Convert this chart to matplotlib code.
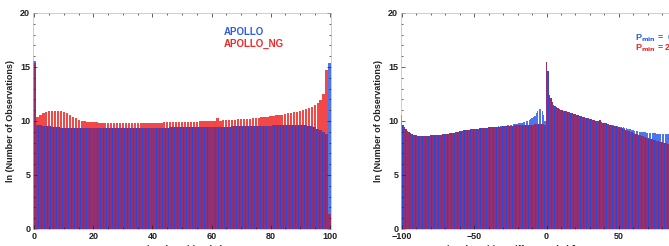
import numpy as np
import matplotlib
matplotlib.use("Agg")
import matplotlib.pyplot as plt
from matplotlib.ticker import MultipleLocator

# left panel: signal position (%) bins 0..100
pos_left = list(range(0, 101))
apollo = [
    15.6, 9.65, 9.62, 9.58, 9.54, 9.5, 9.46, 9.43, 9.4, 9.38,
    9.36, 9.35, 9.34, 9.33, 9.33, 9.32, 9.32, 9.32, 9.32, 9.32,
    9.32, 9.32, 9.32, 9.33, 9.33, 9.33, 9.33, 9.34, 9.34, 9.34,
    9.34, 9.35, 9.35, 9.35, 9.35, 9.36, 9.36, 9.36, 9.37, 9.37,
    9.37, 9.38, 9.38, 9.38, 9.39, 9.39, 9.4, 9.4, 9.4, 9.41,
    9.41, 9.42, 9.42, 9.43, 9.43, 9.44, 9.44, 9.45, 9.45, 9.46,
    9.46, 9.47, 9.47, 9.48, 9.48, 9.49, 9.49, 9.5, 9.5, 9.51,
    9.51, 9.52, 9.52, 9.53, 9.53, 9.54, 9.54, 9.55, 9.56, 9.57,
    9.58, 9.59, 9.6, 9.6, 9.61, 9.61, 9.62, 9.62, 9.63, 9.63,
    9.63, 9.62, 9.6, 9.56, 9.5, 9.42, 9.3, 9.15, 8.95, 8.8,
    15.4,
]
apollo_ng = [
    15.4, 10.4, 10.6, 10.75, 10.85, 10.92, 10.96, 10.97, 10.95, 10.9,
    10.82, 10.7, 10.55, 10.4, 10.25, 10.12, 10.03, 9.97, 9.93, 9.9,
    9.88, 9.87, 9.86, 9.85, 9.85, 9.84, 9.84, 9.83, 9.83, 9.83,
    9.83, 9.83, 9.83, 9.83, 9.83, 9.84, 9.84, 9.84, 9.84, 9.85,
    9.85, 9.85, 9.86, 9.86, 9.87, 9.87, 9.88, 9.88, 9.89, 9.9,
    9.9, 9.91, 9.92, 9.93, 9.94, 9.95, 9.96, 9.97, 9.98, 9.99,
    10.0, 10.01, 10.25, 10.04, 10.05, 10.07, 10.08, 10.1, 10.12, 10.14,
    10.16, 10.18, 10.2, 10.22, 10.25, 10.28, 10.31, 10.34, 10.37, 10.4,
    10.44, 10.48, 10.52, 10.56, 10.6, 10.65, 10.7, 10.75, 10.8, 10.86,
    10.93, 11.0, 11.08, 11.18, 11.3, 11.45, 11.65, 11.9, 12.5, 14.7,
    1.4,
]

# right panel: position difference (%) bins -100..100
pos_right = list(range(-100, 101))
pmin_0 = [
    10.6, 9.6, 9.4, 9.25, 9.1, 8.98, 8.88, 8.8, 8.74, 8.70,
    8.67, 8.65, 8.65, 8.64, 8.64, 8.64, 8.64, 8.65, 8.65, 8.65,
    8.66, 8.67, 8.68, 8.69, 8.70, 8.71, 8.73, 8.74, 8.76, 8.78,
    8.80, 8.82, 8.84, 8.86, 8.88, 8.91, 8.93, 8.96, 8.99, 9.02,
    9.05, 9.08, 9.10, 9.13, 9.15, 9.17, 9.19, 9.21, 9.23, 9.25,
    9.27, 9.28, 9.29, 9.30, 9.31, 9.33, 9.34, 9.35, 9.36, 9.38,
    9.41, 9.42, 9.44, 9.45, 9.46, 9.47, 9.49, 9.50, 9.51, 9.52,
    9.54, 9.56, 9.58, 9.60, 9.62, 9.64, 9.66, 9.68, 9.70, 9.73,
    9.76, 9.79, 9.82, 9.86, 9.90, 9.94, 9.99, 10.04, 10.10, 10.17,
    10.25, 10.35, 10.5, 10.7, 10.95, 11.1, 11.08, 10.95, 10.6, 10.0,
    15.5, 14.6, 12.4, 12.1, 11.75, 11.5, 11.4, 11.3, 11.2, 11.12,
    11.05, 11.0, 10.96, 10.92, 10.88, 10.84, 10.8, 10.76, 10.72, 10.68,
    10.64, 10.6, 10.55, 10.5, 10.45, 10.4, 10.36, 10.32, 10.28, 10.24,
    10.2, 10.16, 10.12, 10.08, 10.04, 10.0, 9.96, 10.1, 9.9, 9.86,
    9.82, 9.78, 9.74, 9.7, 9.66, 9.64, 9.61, 9.58, 9.55, 9.52,
    9.49, 9.46, 9.43, 9.40, 9.37, 9.34, 9.30, 9.26, 9.22, 9.18,
    9.14, 9.11, 9.08, 9.05, 9.02, 9.0, 8.98, 8.96, 8.94, 8.92,
    8.9, 8.89, 8.88, 8.87, 8.86, 8.85, 8.84, 8.83, 8.82, 8.81,
    8.8, 8.8, 8.79, 8.79, 8.78, 8.78, 8.77, 8.77, 8.76, 8.76,
    8.75, 8.75, 8.74, 8.74, 8.73, 8.73, 8.72, 8.72, 8.71, 8.71,
    8.7,
]
pmin_25 = [
    10.6, 9.6, 9.4, 9.25, 9.1, 8.98, 8.88, 8.8, 8.74, 8.70,
    8.67, 8.65, 8.65, 8.64, 8.64, 8.64, 8.64, 8.65, 8.65, 8.65,
    8.66, 8.67, 8.68, 8.69, 8.70, 8.71, 8.73, 8.74, 8.76, 8.78,
    8.80, 8.82, 8.84, 8.86, 8.88, 8.91, 8.93, 8.96, 8.99, 9.02,
    9.05, 9.08, 9.10, 9.13, 9.15, 9.17, 9.19, 9.21, 9.23, 9.25,
    9.27, 9.28, 9.29, 9.30, 9.31, 9.33, 9.34, 9.35, 9.36, 9.38,
    9.40, 9.41, 9.42, 9.43, 9.44, 9.45, 9.46, 9.47, 9.48, 9.49,
    9.50, 9.51, 9.52, 9.53, 9.54, 9.56, 9.57, 9.58, 9.59, 9.60,
    9.60, 9.61, 9.61, 9.62, 9.62, 9.63, 9.64, 9.64, 9.65, 9.66,
    9.67, 9.67, 9.68, 9.69, 9.69, 9.70, 9.71, 9.72, 9.73, 9.60,
    15.5, 14.6, 12.4, 12.1, 11.75, 11.5, 11.4, 11.3, 11.2, 11.12,
    11.05, 11.0, 10.96, 10.92, 10.88, 10.84, 10.8, 10.76, 10.72, 10.68,
    10.64, 10.6, 10.55, 10.5, 10.45, 10.4, 10.36, 10.32, 10.28, 10.24,
    10.2, 10.16, 10.12, 10.08, 10.04, 10.0, 9.96, 10.1, 9.9, 9.86,
    9.82, 9.78, 9.74, 9.7, 9.66, 9.62, 9.58, 9.54, 9.5, 9.46,
    9.42, 9.37, 9.32, 9.27, 9.22, 9.17, 9.12, 9.06, 9.0, 8.94,
    8.88, 8.84, 8.8, 8.76, 8.72, 8.67, 8.62, 8.57, 8.52, 8.47,
    8.42, 8.37, 8.33, 8.29, 8.25, 8.21, 8.17, 8.13, 8.09, 8.05,
    8.01, 7.98, 7.95, 7.92, 7.88, 7.85, 7.82, 7.79, 7.76, 7.73,
    7.7, 7.67, 7.64, 7.61, 7.58, 7.55, 7.52, 7.49, 7.46, 7.43,
    7.4,
]

BLUE = "#2f5ee6"
RED = "#f02828"
BLUE_DARK = "#2a48d2"
RED_DARK = "#d82034"
FONT = "Liberation Sans"

plt.rcParams["font.family"] = FONT
plt.rcParams["font.weight"] = "bold"

W, H = 669, 246
fig = plt.figure(figsize=(W / 100, H / 100), dpi=100)


def style_axes(ax):
    ax.set_ylim(0, 20)
    ax.yaxis.set_major_locator(MultipleLocator(5))
    ax.yaxis.set_minor_locator(MultipleLocator(1))
    ax.tick_params(which="both", direction="in", top=True, right=True,
                   labelsize=6.5, colors="#222222", width=0.5)
    ax.tick_params(which="major", length=3)
    ax.tick_params(which="minor", length=1.5)
    ax.tick_params(axis="both", pad=2)
    for s in ax.spines.values():
        s.set_linewidth(0.5)
        s.set_color("#bbbbbb")
    for lab in ax.get_xticklabels() + ax.get_yticklabels():
        lab.set_fontweight("bold")
    ax.set_ylabel("ln (Number of Observations)", fontsize=6.5,
                  fontweight="bold", labelpad=4, color="#222222")


def draw_pair(ax, x, blue_vals, red_vals):
    b = np.array(blue_vals)
    r = np.array(red_vals)
    low = np.minimum(b, r)
    # blue part sticking out above red
    ax.bar(x, b, width=0.85, color=BLUE, alpha=0.85, linewidth=0)
    # shared part: purple blend
    ax.bar(x, low, width=1.0, color=BLUE_DARK, linewidth=0)
    ax.bar(x, low, width=0.7, color=RED_DARK, alpha=0.6, linewidth=0)
    # red part sticking out above blue
    ax.bar(x, r - low, bottom=low, width=0.8, color=RED, alpha=0.85,
           linewidth=0)


# left panel
ax1 = fig.add_axes([33 / W, (H - 229) / H, 298 / W, 216 / H])
draw_pair(ax1, pos_left, apollo, apollo_ng)
ax1.set_xlim(-0.5, 100.5)
ax1.xaxis.set_major_locator(MultipleLocator(20))
ax1.xaxis.set_minor_locator(MultipleLocator(5))
style_axes(ax1)
ax1.text(0.64, 0.9, "APOLLO", color=BLUE, fontsize=7, fontweight="bold",
         transform=ax1.transAxes)
ax1.text(0.64, 0.845, "APOLLO_NG", color=RED, fontsize=7, fontweight="bold",
         transform=ax1.transAxes)

# right panel, runs past the right edge of the figure
ax2 = fig.add_axes([401 / W, (H - 229) / H, 291 / W, 216 / H])
draw_pair(ax2, pos_right, pmin_0, pmin_25)
ax2.set_xlim(-100.5, 100.5)
ax2.xaxis.set_major_locator(MultipleLocator(50))
ax2.xaxis.set_minor_locator(MultipleLocator(10))
style_axes(ax2)
ax2.text(0.805, 0.875, r"P$_{\mathbf{min}}$ =  0%", color=BLUE, fontsize=6.5,
         fontweight="bold", transform=ax2.transAxes)
ax2.text(0.805, 0.825, r"P$_{\mathbf{min}}$ = 25%", color=RED, fontsize=6.5,
         fontweight="bold", transform=ax2.transAxes)

# x labels, mostly below the bottom edge as in the reference
fig.text(182 / W, -4 / H, "Signal Position (%)", fontsize=6.5,
         fontweight="bold", ha="center", va="center", color="#222222")
fig.text(560 / W, -4 / H, "Signal Position Difference (%) [APOLLO - APOLLO_NG]",
         fontsize=6.5, fontweight="bold", ha="center", va="center",
         color="#222222")

fig.savefig("out.png", dpi=100)
